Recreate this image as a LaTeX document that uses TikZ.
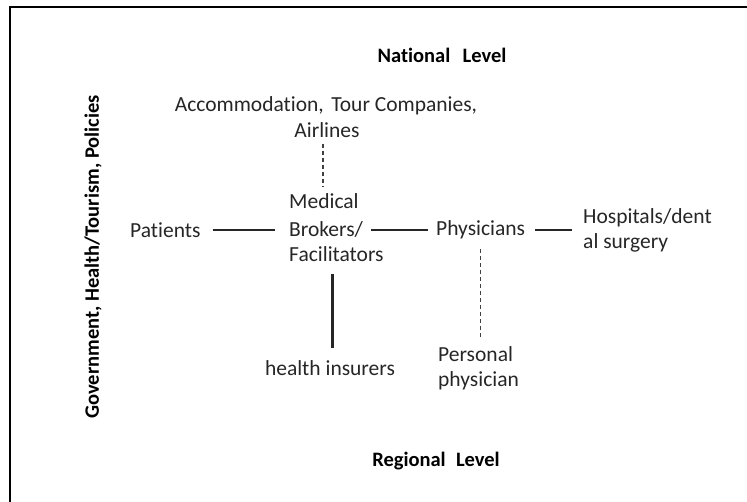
\documentclass[tikz,border=0pt]{standalone}
\usepackage{fontspec}
\setmainfont[Ligatures=NoCommon]{Carlito}
\usetikzlibrary{calc}
\begin{document}
\begin{tikzpicture}[x=1pt,y=-1pt,
  lbl/.style={inner sep=0pt, text=black!85, font=\fontsize{21.5}{25}\selectfont},
  hdr/.style={inner sep=0pt, text=black, font=\fontsize{20.5}{24}\selectfont\bfseries},
  solidlink/.style={line width=2.2pt, black!85},
  dashlink/.style={line width=1.1pt, black!75, dash pattern=on 4pt off 3pt}]
\useasboundingbox (0,0) rectangle (747,502);
% frame: top and left rules
\draw[line width=2.6pt] (747,7) -- (10,7) -- (10,502);

% level headings and side label
\node[hdr] (nat) at (442,55) {National\hspace{0.6em}Level};
\node[hdr] (reg) at (436,461) {Regional\hspace{0.5em}Level};
\node[hdr, rotate=90] (gov) at (93,257) {Government, Health/Tourism, Policies};

% actors
\node[lbl] (acc) at (326,106) {Accommodation,\hspace{0.35em}Tour Companies,};
\node[lbl] (air) at (327,130) {Airlines};
\node[lbl, anchor=west] (med1) at (289,201) {Medical};
\node[lbl, anchor=west] (med2) at (289,229) {Brokers/};
\node[lbl, anchor=west] (med3) at (289,254) {Facilitators};
\node[lbl, anchor=west] (pat) at (130,230) {Patients};
\node[lbl, anchor=west] (phys) at (436,230) {Physicians};
\node[lbl, anchor=west, align=left] (hosp) at (583,230) {Hospitals/dent\\al surgery};
\node[lbl] (ins) at (330,368) {health insurers};
\node[lbl, anchor=west, align=left] (pers) at (438,368) {Personal\\physician};

% connections
\draw[solidlink] ([xshift=12pt]pat.east) -- ([xshift=-14pt]pat.east -| med2.west);
\draw[solidlink] ([xshift=8pt]phys.west -| med2.east) -- ([xshift=-8pt]phys.west);
\draw[solidlink] ([xshift=10pt]phys.east) -- ([xshift=-11pt]hosp.west);
\draw[solidlink] ([xshift=-4pt,yshift=-12pt]med3.south) -- ([xshift=-4pt,yshift=12pt]med3.south |- ins.north);
\draw[dashlink] ([xshift=-4pt,yshift=-6pt]air.south) -- ([xshift=-4pt,yshift=6pt]air.south |- med1.north);
\draw[dashlink] ([yshift=-10pt]phys.south) -- ([yshift=6pt]phys.south |- pers.north);
\end{tikzpicture}
\end{document}
